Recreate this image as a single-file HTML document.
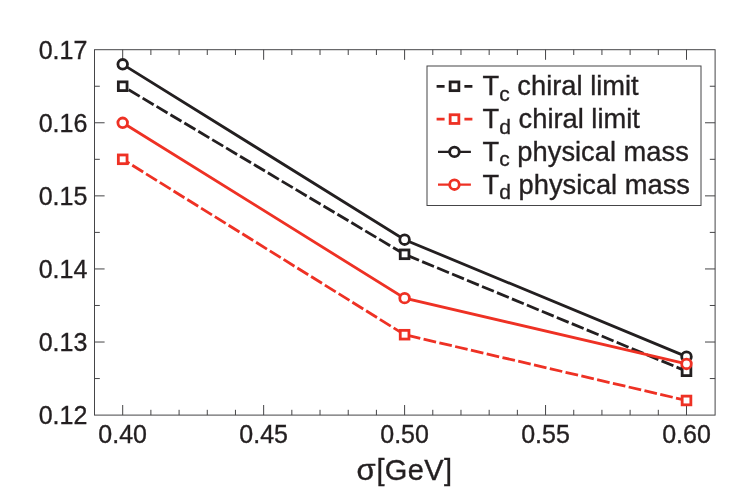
<!DOCTYPE html>
<html><head><meta charset="utf-8"><title>chart</title>
<style>html,body{margin:0;padding:0;background:#fff;}svg{display:block;will-change:transform;}text{font-family:"Liberation Sans",sans-serif;fill:#231f20;stroke:#231f20;stroke-width:0.35px;}</style></head><body>
<svg width="747" height="498" viewBox="0 0 747 498">
<rect x="0" y="0" width="747" height="498" fill="#ffffff"/>
<g stroke="#454547" stroke-width="1" fill="none" shape-rendering="auto">
<rect x="94.50" y="49.70" width="620.60" height="365.40"/>
<path d="M122.70 415.10v-10.10 M122.70 49.70v10.10"/>
<path d="M150.89 415.10v-5.30 M150.89 49.70v5.30"/>
<path d="M179.08 415.10v-5.30 M179.08 49.70v5.30"/>
<path d="M207.27 415.10v-5.30 M207.27 49.70v5.30"/>
<path d="M235.46 415.10v-5.30 M235.46 49.70v5.30"/>
<path d="M263.65 415.10v-10.10 M263.65 49.70v10.10"/>
<path d="M291.84 415.10v-5.30 M291.84 49.70v5.30"/>
<path d="M320.03 415.10v-5.30 M320.03 49.70v5.30"/>
<path d="M348.22 415.10v-5.30 M348.22 49.70v5.30"/>
<path d="M376.41 415.10v-5.30 M376.41 49.70v5.30"/>
<path d="M404.60 415.10v-10.10 M404.60 49.70v10.10"/>
<path d="M432.79 415.10v-5.30 M432.79 49.70v5.30"/>
<path d="M460.98 415.10v-5.30 M460.98 49.70v5.30"/>
<path d="M489.17 415.10v-5.30 M489.17 49.70v5.30"/>
<path d="M517.36 415.10v-5.30 M517.36 49.70v5.30"/>
<path d="M545.55 415.10v-10.10 M545.55 49.70v10.10"/>
<path d="M573.74 415.10v-5.30 M573.74 49.70v5.30"/>
<path d="M601.93 415.10v-5.30 M601.93 49.70v5.30"/>
<path d="M630.12 415.10v-5.30 M630.12 49.70v5.30"/>
<path d="M658.31 415.10v-5.30 M658.31 49.70v5.30"/>
<path d="M686.50 415.10v-10.10 M686.50 49.70v10.10"/>
<path d="M94.50 378.56h5.30 M715.10 378.56h-5.30"/>
<path d="M94.50 342.02h10.10 M715.10 342.02h-10.10"/>
<path d="M94.50 305.48h5.30 M715.10 305.48h-5.30"/>
<path d="M94.50 268.94h10.10 M715.10 268.94h-10.10"/>
<path d="M94.50 232.40h5.30 M715.10 232.40h-5.30"/>
<path d="M94.50 195.86h10.10 M715.10 195.86h-10.10"/>
<path d="M94.50 159.32h5.30 M715.10 159.32h-5.30"/>
<path d="M94.50 122.78h10.10 M715.10 122.78h-10.10"/>
<path d="M94.50 86.24h5.30 M715.10 86.24h-5.30"/>
</g>
<g font-size="25">
<text x="87.3" y="424.10" text-anchor="end">0.12</text>
<text x="87.3" y="351.02" text-anchor="end">0.13</text>
<text x="87.3" y="277.94" text-anchor="end">0.14</text>
<text x="87.3" y="204.86" text-anchor="end">0.15</text>
<text x="87.3" y="131.78" text-anchor="end">0.16</text>
<text x="87.3" y="58.70" text-anchor="end">0.17</text>
<text x="122.70" y="443.4" text-anchor="middle">0.40</text>
<text x="263.65" y="443.4" text-anchor="middle">0.45</text>
<text x="404.60" y="443.4" text-anchor="middle">0.50</text>
<text x="545.55" y="443.4" text-anchor="middle">0.55</text>
<text x="686.50" y="443.4" text-anchor="middle">0.60</text>
</g>
<text transform="translate(356.5,479.6) scale(1.07,1)" font-size="29">σ</text>
<text x="376.4" y="479.6" font-size="29" letter-spacing="0.4">[GeV]</text>
<path d="M122.70 86.24 L404.60 254.32 L686.50 371.25" fill="none" stroke="#231f20" stroke-width="2.80" stroke-linejoin="miter" stroke-dasharray="12.80 3.40" stroke-dashoffset="9.20"/>
<path d="M122.70 159.32 L404.60 334.71 L686.50 400.48" fill="none" stroke="#ee3124" stroke-width="2.80" stroke-linejoin="miter" stroke-dasharray="12.80 3.40" stroke-dashoffset="4.90"/>
<path d="M122.70 64.32 L404.60 239.71 L686.50 356.64" fill="none" stroke="#231f20" stroke-width="2.80" stroke-linejoin="miter"/>
<path d="M122.70 122.78 L404.60 298.17 L686.50 363.94" fill="none" stroke="#ee3124" stroke-width="2.80" stroke-linejoin="miter"/>
<rect x="118.35" y="81.89" width="8.70" height="8.70" fill="#fff" stroke="#231f20" stroke-width="2.80"/>
<rect x="400.25" y="249.97" width="8.70" height="8.70" fill="#fff" stroke="#231f20" stroke-width="2.80"/>
<rect x="682.15" y="366.90" width="8.70" height="8.70" fill="#fff" stroke="#231f20" stroke-width="2.80"/>
<rect x="118.35" y="154.97" width="8.70" height="8.70" fill="#fff" stroke="#ee3124" stroke-width="2.80"/>
<rect x="400.25" y="330.36" width="8.70" height="8.70" fill="#fff" stroke="#ee3124" stroke-width="2.80"/>
<rect x="682.15" y="396.13" width="8.70" height="8.70" fill="#fff" stroke="#ee3124" stroke-width="2.80"/>
<circle cx="122.70" cy="64.32" r="4.80" fill="#fff" stroke="#231f20" stroke-width="2.80"/>
<circle cx="404.60" cy="239.71" r="4.80" fill="#fff" stroke="#231f20" stroke-width="2.80"/>
<circle cx="686.50" cy="356.64" r="4.80" fill="#fff" stroke="#231f20" stroke-width="2.80"/>
<circle cx="122.70" cy="122.78" r="4.80" fill="#fff" stroke="#ee3124" stroke-width="2.80"/>
<circle cx="404.60" cy="298.17" r="4.80" fill="#fff" stroke="#ee3124" stroke-width="2.80"/>
<circle cx="686.50" cy="363.94" r="4.80" fill="#fff" stroke="#ee3124" stroke-width="2.80"/>
<rect x="427" y="66" width="274" height="139.5" fill="#fff" stroke="#454547" stroke-width="1"/>
<path d="M436.60 86.30H472.40" stroke="#231f20" stroke-width="2.80" fill="none" stroke-dasharray="8 19.8 8 0"/>
<rect x="450.15" y="81.95" width="8.70" height="8.70" fill="#fff" stroke="#231f20" stroke-width="2.80"/>
<text x="482.6" y="95.10" font-size="27.3">T<tspan font-size="21" dy="5.6">c</tspan><tspan dy="-5.6"> chiral limit</tspan></text>
<path d="M436.60 119.10H472.40" stroke="#ee3124" stroke-width="2.80" fill="none" stroke-dasharray="8 19.8 8 0"/>
<rect x="450.15" y="114.75" width="8.70" height="8.70" fill="#fff" stroke="#ee3124" stroke-width="2.80"/>
<text x="482.6" y="127.90" font-size="27.3">T<tspan font-size="21" dy="5.6">d</tspan><tspan dy="-5.6"> chiral limit</tspan></text>
<path d="M438.00 151.90H470.90" stroke="#231f20" stroke-width="2.20" fill="none"/>
<circle cx="454.45" cy="151.90" r="4.80" fill="#fff" stroke="#231f20" stroke-width="2.80"/>
<text x="482.6" y="160.70" font-size="27.3">T<tspan font-size="21" dy="5.6">c</tspan><tspan dy="-5.6"> physical mass</tspan></text>
<path d="M438.00 184.70H470.90" stroke="#ee3124" stroke-width="2.20" fill="none"/>
<circle cx="454.45" cy="184.70" r="4.80" fill="#fff" stroke="#ee3124" stroke-width="2.80"/>
<text x="482.6" y="193.50" font-size="27.3">T<tspan font-size="21" dy="5.6">d</tspan><tspan dy="-5.6"> physical mass</tspan></text>
</svg></body></html>
